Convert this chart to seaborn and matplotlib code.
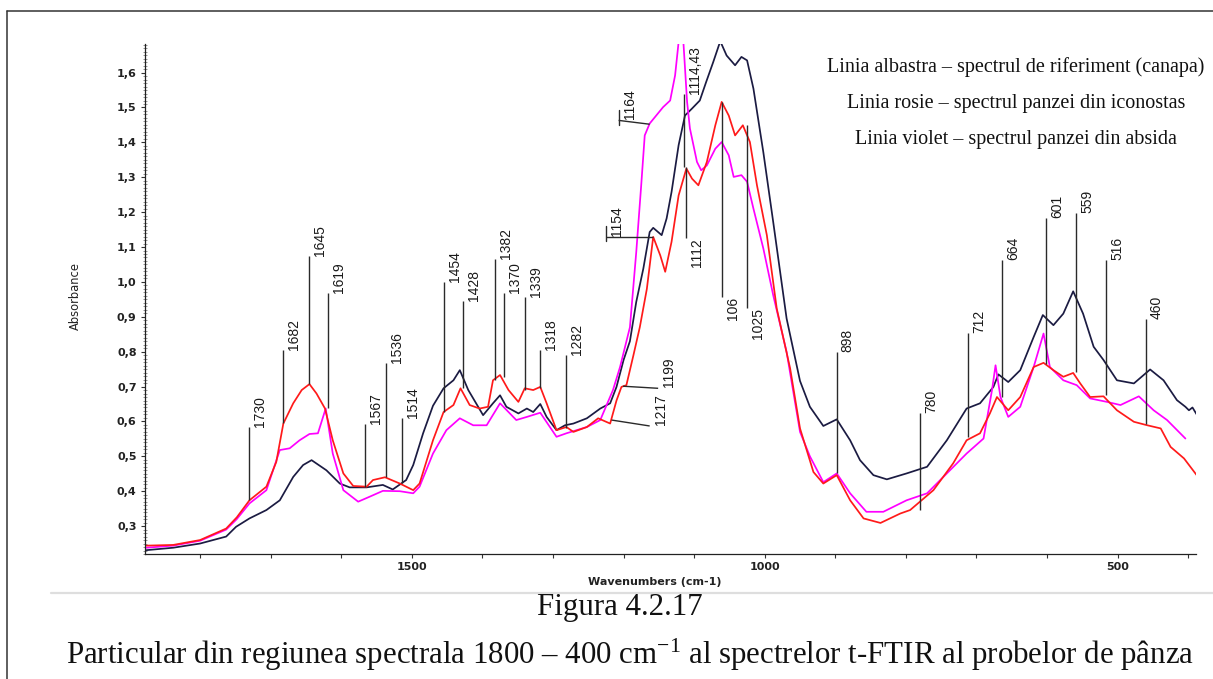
import numpy as np
import pandas as pd
import matplotlib
matplotlib.use("Agg")
import matplotlib.pyplot as plt
import seaborn as sns
from matplotlib.ticker import MultipleLocator, FixedLocator, FuncFormatter
from matplotlib.lines import Line2D

# ---------------------------------------------------------------- spectra
# wavenumber (cm-1) / absorbance pairs for the three t-FTIR spectra
blue_wn = [1876, 1838, 1800, 1763, 1749, 1730, 1706, 1687, 1668, 1654,
           1642, 1621, 1602, 1588, 1564, 1541, 1527, 1508, 1498, 1484,
           1470, 1455, 1441, 1432, 1420, 1399, 1385, 1375, 1366, 1349,
           1337, 1328, 1318, 1309, 1295, 1283, 1271, 1252, 1233, 1219,
           1210, 1200, 1191, 1182, 1172, 1163, 1158, 1146, 1139, 1132,
           1122, 1113, 1103, 1092, 1083, 1073, 1063, 1054, 1042, 1033,
           1025, 1016, 1002, 988, 969, 950, 936, 917, 898, 879,
           865, 846, 827, 799, 770, 742, 714, 695, 676, 669,
           655, 638, 619, 606, 591, 577, 563, 549, 534, 520,
           501, 477, 454, 435, 416, 404, 399, 394, 388]
blue_abs = [0.231, 0.238, 0.250, 0.270, 0.298, 0.322, 0.346, 0.374, 0.441, 0.475,
            0.489, 0.460, 0.422, 0.411, 0.411, 0.418, 0.405, 0.432, 0.475, 0.566,
            0.645, 0.695, 0.718, 0.747, 0.690, 0.618, 0.652, 0.675, 0.642, 0.623,
            0.637, 0.627, 0.650, 0.613, 0.575, 0.589, 0.594, 0.609, 0.637, 0.652,
            0.699, 0.776, 0.830, 0.943, 1.038, 1.143, 1.155, 1.134, 1.182, 1.258,
            1.392, 1.477, 1.497, 1.520, 1.573, 1.630, 1.690, 1.649, 1.621, 1.645,
            1.635, 1.554, 1.372, 1.172, 0.895, 0.716, 0.642, 0.587, 0.606, 0.546,
            0.489, 0.446, 0.434, 0.451, 0.470, 0.546, 0.637, 0.652, 0.699, 0.735,
            0.713, 0.747, 0.842, 0.905, 0.876, 0.909, 0.973, 0.909, 0.814, 0.776,
            0.718, 0.709, 0.749, 0.718, 0.661, 0.642, 0.632, 0.640, 0.620]

red_wn = [1876, 1838, 1800, 1763, 1748, 1730, 1706, 1692, 1682, 1668,
          1656, 1645, 1635, 1623, 1612, 1597, 1583, 1564, 1555, 1538,
          1517, 1498, 1489, 1470, 1455, 1441, 1431, 1418, 1404, 1392,
          1385, 1375, 1363, 1349, 1340, 1328, 1318, 1309, 1295, 1281,
          1271, 1252, 1236, 1219, 1210, 1203, 1196, 1186, 1177, 1167,
          1158, 1148, 1141, 1132, 1122, 1111, 1103, 1094, 1082, 1070,
          1061, 1051, 1042, 1031, 1021, 1011, 997, 983, 964, 950,
          931, 917, 898, 879, 860, 836, 808, 794, 761, 733,
          714, 695, 681, 671, 655, 638, 619, 605, 591, 577,
          563, 553, 539, 520, 501, 477, 458, 439, 425, 406, 388]
red_abs = [0.244, 0.246, 0.260, 0.293, 0.325, 0.374, 0.413, 0.484, 0.594, 0.652,
           0.690, 0.707, 0.680, 0.637, 0.546, 0.451, 0.415, 0.413, 0.432, 0.440,
           0.422, 0.403, 0.422, 0.546, 0.627, 0.647, 0.695, 0.647, 0.637, 0.642,
           0.718, 0.733, 0.690, 0.656, 0.695, 0.690, 0.699, 0.652, 0.575, 0.584,
           0.570, 0.584, 0.609, 0.594, 0.660, 0.699, 0.704, 0.790, 0.870, 0.980,
           1.129, 1.076, 1.029, 1.115, 1.248, 1.325, 1.296, 1.277, 1.344, 1.449,
           1.516, 1.477, 1.420, 1.449, 1.401, 1.277, 1.134, 0.924, 0.752, 0.580,
           0.455, 0.422, 0.446, 0.374, 0.322, 0.309, 0.336, 0.346, 0.403, 0.480,
           0.546, 0.566, 0.623, 0.670, 0.632, 0.670, 0.756, 0.768, 0.747, 0.728,
           0.739, 0.709, 0.670, 0.672, 0.632, 0.599, 0.589, 0.580, 0.527, 0.494, 0.446]

violet_wn = [1876, 1838, 1800, 1763, 1748, 1730, 1706, 1687, 1673, 1659,
             1645, 1633, 1622, 1612, 1597, 1576, 1560, 1541, 1517, 1498,
             1489, 1470, 1451, 1432, 1413, 1394, 1375, 1352, 1337, 1318,
             1295, 1281, 1252, 1233, 1215, 1205, 1191, 1182, 1175, 1170,
             1163, 1144, 1134, 1127, 1121, 1118, 1115, 1110, 1106, 1096,
             1090, 1082, 1070, 1061, 1051, 1044, 1033, 1025, 1016, 1002,
             988, 969, 950, 936, 917, 898, 879, 856, 832, 799,
             770, 742, 714, 690, 678, 673, 666, 655, 638, 619,
             605, 596, 577, 558, 539, 515, 496, 470, 449, 430, 404]
violet_abs = [0.238, 0.244, 0.258, 0.290, 0.320, 0.365, 0.403, 0.518, 0.523, 0.546,
              0.564, 0.566, 0.637, 0.508, 0.403, 0.370, 0.384, 0.401, 0.400, 0.394,
              0.413, 0.508, 0.575, 0.609, 0.589, 0.589, 0.652, 0.604, 0.613, 0.625,
              0.556, 0.566, 0.584, 0.604, 0.690, 0.756, 0.870, 1.086, 1.277, 1.420,
              1.454, 1.501, 1.520, 1.592, 1.707, 1.750, 1.680, 1.516, 1.440, 1.344,
              1.320, 1.334, 1.382, 1.401, 1.363, 1.301, 1.306, 1.287, 1.210, 1.096,
              0.962, 0.799, 0.570, 0.500, 0.426, 0.451, 0.394, 0.341, 0.341, 0.374,
              0.394, 0.451, 0.508, 0.551, 0.690, 0.761, 0.670, 0.613, 0.642, 0.756,
              0.852, 0.756, 0.718, 0.704, 0.666, 0.656, 0.647, 0.672, 0.632, 0.604, 0.551]

# ---------------------------------------------------------- peak markers
# vertical markers: label, wavenumber, absorbance at the curve, absorbance at the top
up_labels = ["1730", "1682", "1645", "1619", "1567", "1536", "1514", "1454",
             "1428", "1382", "1370", "1339", "1318", "1282", "1114,43",
             "898", "780", "712", "664", "601", "559", "516", "460"]
up_wn = [1730, 1682, 1645, 1619, 1567, 1536, 1514, 1454,
         1428, 1382, 1370, 1339, 1318, 1282, 1114.43,
         898, 780, 712, 664, 601, 559, 516, 460]
up_base = [0.374, 0.595, 0.707, 0.638, 0.413, 0.441, 0.424, 0.627,
           0.695, 0.718, 0.728, 0.690, 0.695, 0.580, 1.329,
           0.451, 0.346, 0.556, 0.670, 0.766, 0.742, 0.675, 0.594]
up_top = [0.584, 0.804, 1.074, 0.968, 0.594, 0.768, 0.609, 1.000,
          0.945, 1.067, 0.967, 0.957, 0.804, 0.790, 1.540,
          0.799, 0.625, 0.854, 1.062, 1.182, 1.198, 1.064, 0.895]

# markers drawn downwards from a peak, label under the line end
down_labels = ["1112", "106", "1025"]
down_wn = [1112, 1060, 1025]
down_base = [1.329, 1.516, 1.449]
down_end = [1.125, 0.957, 0.925]

# slanted leaders: label, start (wn, abs) on the curve, end (wn, abs) near the label
lead_labels = ["1199", "1217", "1154", "1164"]
lead_wn0 = [1201, 1217, 1158, 1163]
lead_abs0 = [0.701, 0.604, 1.129, 1.452]
lead_wn1 = [1151, 1163, 1225, 1207]
lead_abs1 = [0.695, 0.587, 1.129, 1.463]
lead_bar = [False, False, True, True]

legend_lines = ["Linia albastra \u2013 spectrul de riferiment (canapa)",
                "Linia rosie \u2013 spectrul panzei din iconostas",
                "Linia violet \u2013 spectrul panzei din absida"]
caption_title = "Figura 4.2.17"
caption_text = ("Particular din regiunea spectrala 1800 \u2013 400 cm$^{-1}$ "
                "al spectrelor t-FTIR al probelor de p\u00e2nza")

# ------------------------------------------------------------------ style
sns.set_theme(style="white")
plt.rcParams["font.family"] = ["DejaVu Sans"]
plt.rcParams["mathtext.fontset"] = "custom"
plt.rcParams["mathtext.rm"] = "Liberation Serif"
plt.rcParams["mathtext.it"] = "Liberation Serif:italic"
plt.rcParams["mathtext.bf"] = "Liberation Serif:bold"

W, H = 1213, 679
fig = plt.figure(figsize=(W / 100, H / 100), dpi=100)
fig.patch.set_facecolor("white")


def fx(px):
    return px / W


def fy(py):
    return 1 - py / H


ax = fig.add_axes([fx(145), fy(554), fx(1196) - fx(145), fy(44) - fy(554)])
ax.set_facecolor("white")

frames = []
for name, wn, ab in [("blue", blue_wn, blue_abs),
                     ("violet", violet_wn, violet_abs),
                     ("red", red_wn, red_abs)]:
    frames.append(pd.DataFrame({"wavenumber": wn, "absorbance": ab, "spectrum": name}))
spectra = pd.concat(frames, ignore_index=True)

palette = {"blue": "#1b1b42", "violet": "#ff00ff", "red": "#ff1a1a"}
sns.lineplot(data=spectra, x="wavenumber", y="absorbance", hue="spectrum",
             palette=palette, estimator=None, sort=False, legend=False,
             linewidth=1.25, ax=ax)

ax.set_xlim(1878, 389)
ax.set_ylim(0.22, 1.682)

# axes frame
for side in ["top", "right"]:
    ax.spines[side].set_visible(False)
for side in ["left", "bottom"]:
    ax.spines[side].set_color("#222222")
    ax.spines[side].set_linewidth(0.9)

ax.xaxis.set_major_locator(MultipleLocator(500))
ax.xaxis.set_minor_locator(MultipleLocator(100))
ax.yaxis.set_major_locator(FixedLocator(np.round(np.arange(0.3, 1.65, 0.1), 1)))
ax.yaxis.set_minor_locator(MultipleLocator(0.01))
ax.yaxis.set_major_formatter(FuncFormatter(lambda v, p: f"{v:.1f}".replace(".", ",")))
ax.xaxis.set_major_formatter(FuncFormatter(lambda v, p: f"{v:.0f}"))

tick_font = {"family": "DejaVu Sans", "weight": "bold", "size": 8}
ax.tick_params(axis="x", which="both", direction="out", length=3, width=0.8,
               color="#333333", pad=3, bottom=True)
ax.tick_params(axis="y", which="major", direction="out", length=3, width=0.8,
               color="#333333", pad=3, left=True)
ax.tick_params(axis="y", which="minor", direction="inout", length=2.5, width=0.5,
               color="#666666", left=True)
for lab in ax.get_xticklabels() + ax.get_yticklabels():
    lab.set_fontproperties(matplotlib.font_manager.FontProperties(**tick_font))
    lab.set_color("#222222")

ax.set_xlabel("")
ax.set_ylabel("")
fig.text(fx(655), fy(582), "Wavenumbers (cm-1)", ha="center", va="center",
         family="DejaVu Sans", weight="bold", size=8, color="#222222")
fig.text(fx(75), fy(296), "Absorbance", ha="center", va="center", rotation=90,
         family="DejaVu Sans", size=8.3, color="#222222")

# ---------------------------------------------------------- peak markers
mark_color = "#2a2a2a"
peak_font = dict(family=["Liberation Sans Narrow", "Liberation Sans"], size=10,
                 color="#1a1a1a")

for lab, wn, y0, y1 in zip(up_labels, up_wn, up_base, up_top):
    ax.plot([wn, wn], [y0, y1], color=mark_color, lw=1.0, solid_capstyle="butt")
    ax.annotate(lab, xy=(wn, y1), xytext=(4, 0), textcoords="offset pixels",
                rotation=90, ha="left", va="bottom", **peak_font)

for lab, wn, y0, y1 in zip(down_labels, down_wn, down_base, down_end):
    ax.plot([wn, wn], [y0, y1], color=mark_color, lw=1.0, solid_capstyle="butt")
    ax.annotate(lab, xy=(wn, y1), xytext=(4, 0), textcoords="offset pixels",
                rotation=90, ha="left", va="top", **peak_font)

for lab, x0, y0, x1, y1, bar in zip(lead_labels, lead_wn0, lead_abs0,
                                    lead_wn1, lead_abs1, lead_bar):
    ax.plot([x0, x1], [y0, y1], color=mark_color, lw=1.0, solid_capstyle="butt")
    if bar:
        ax.plot([x1, x1], [y1 - 0.012, y1 + 0.03], color=mark_color, lw=1.0)
    ax.annotate(lab, xy=(x1, y1), xytext=(4, 1), textcoords="offset pixels",
                rotation=90, ha="left", va="bottom", **peak_font)

# ------------------------------------------------------------ legend text
for i, line in enumerate(legend_lines):
    fig.text(fx(1016), fy(72 + 36 * i), line, ha="center", va="baseline",
             family="Liberation Serif", size=14.5, color="#111111")

# ------------------------------------------------------------ page frame
fig.add_artist(Line2D([fx(7), 1.0], [fy(11), fy(11)], color="#333333", lw=1.1))
fig.add_artist(Line2D([fx(7), fx(7)], [fy(11), 0.0], color="#333333", lw=1.1))
fig.add_artist(Line2D([fx(51), 1.0], [fy(593), fy(593)], color="#dedede", lw=1.6))

# ---------------------------------------------------------------- caption
fig.text(fx(620), fy(615), caption_title, ha="center", va="baseline",
         family="Liberation Serif", size=22.2, color="#111111")
fig.text(fx(630), fy(664), caption_text, ha="center", va="baseline",
         family="Liberation Serif", size=22.2, color="#111111")

fig.savefig("out.png", dpi=100, facecolor="white")
